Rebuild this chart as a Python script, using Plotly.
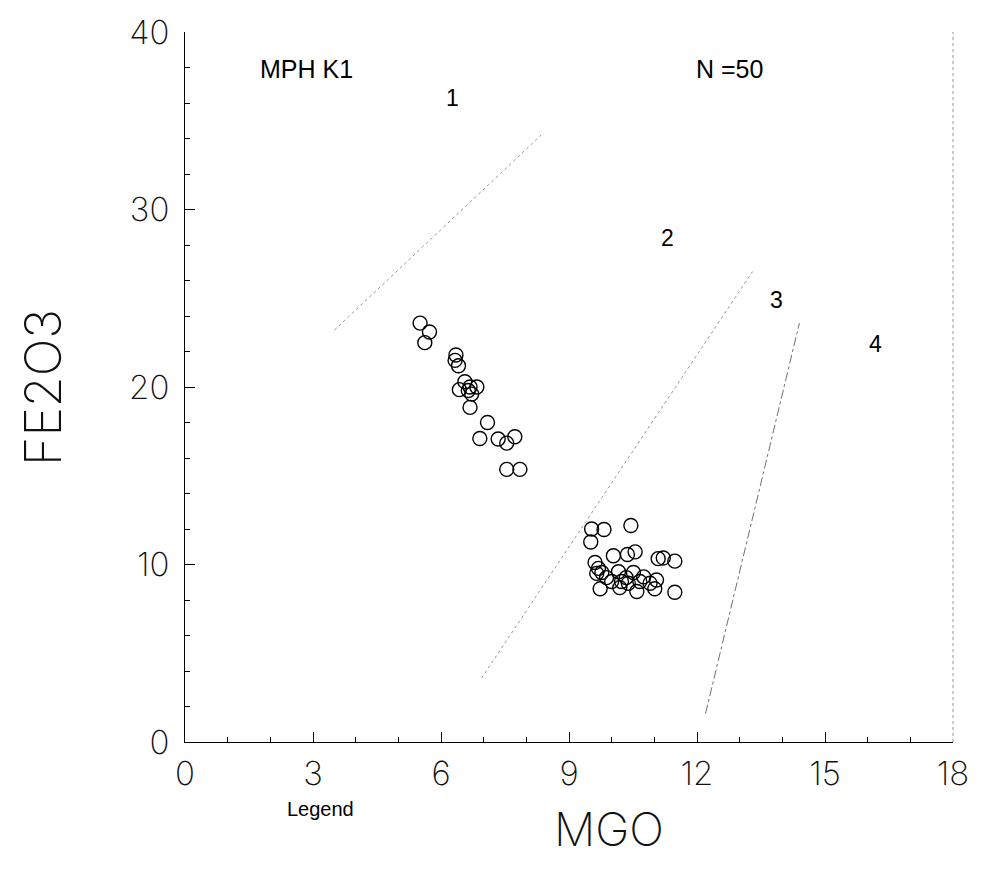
import plotly.graph_objects as go

# ---- data ----
mgo = [5.51, 5.73, 5.62, 6.35, 6.33, 6.41, 6.56, 6.43, 6.68, 6.84,
       6.72, 6.64, 6.68, 7.09, 6.91, 7.34, 7.54, 7.73, 7.54, 7.85,
       9.53, 9.82, 10.45, 9.51, 10.04, 10.37, 10.55, 11.09, 11.21, 11.48,
       9.61, 9.69, 9.77, 9.65, 10.16, 10.51, 10.00, 10.23, 10.39, 10.66,
       10.90, 11.05, 9.73, 10.19, 10.59, 11.01, 11.48, 10.34, 9.88, 10.75]
fe2o3 = [23.6, 23.1, 22.5, 21.8, 21.5, 21.2, 20.3, 19.85, 20.0, 20.0,
         19.6, 19.8, 18.85, 18.0, 17.1, 17.07, 16.84, 17.2, 15.36, 15.36,
         12.0, 11.97, 12.2, 11.27, 10.49, 10.56, 10.71, 10.33, 10.37, 10.19,
         10.11, 9.78, 9.55, 9.5, 9.59, 9.55, 9.04, 9.04, 8.94, 9.04,
         8.94, 9.13, 8.63, 8.7, 8.48, 8.63, 8.44, 9.26, 9.26, 9.3]

line1_x = [3.5, 8.35]
line1_y = [23.2, 34.2]
line2_x = [6.95, 13.3]
line2_y = [3.6, 26.5]
line3_x = [12.2, 14.4]
line3_y = [1.6, 23.6]

field_labels = ["1", "2", "3", "4"]
field_x = [6.28, 11.32, 13.87, 16.19]
field_y = [36.3, 28.4, 24.9, 22.4]

x_ticks = [0, 3, 6, 9, 12, 15, 18]
y_ticks = [0, 10, 20, 30, 40]

THIN = "Inter, Roboto, sans-serif"
SANS = "Liberation Sans, Arial, sans-serif"

fig = go.Figure()

for lx, ly, dash, col in [(line1_x, line1_y, "dot", "#9a9a9a"),
                          (line2_x, line2_y, "dot", "#9a9a9a"),
                          (line3_x, line3_y, "dashdot", "#707070")]:
    fig.add_trace(go.Scatter(x=lx, y=ly, mode="lines",
                             line=dict(color=col, width=1, dash=dash),
                             showlegend=False, hoverinfo="skip"))

fig.add_trace(go.Scatter(
    x=mgo, y=fe2o3, mode="markers",
    marker=dict(symbol="circle-open", size=14, color="black", line=dict(width=1.4, color="black")),
    showlegend=False))

for t, x, y in zip(field_labels, field_x, field_y):
    fig.add_annotation(x=x, y=y, text=t, showarrow=False,
                       font=dict(family=SANS, size=23, color="black"))

fig.add_annotation(x=2.85, y=37.9, text="MPH K1", showarrow=False,
                   font=dict(family=SANS, size=25, color="black"))
fig.add_annotation(x=12.75, y=37.9, text="N =50", showarrow=False,
                   font=dict(family=SANS, size=25, color="black"))

fig.add_annotation(xref="paper", yref="paper", x=-0.185, y=0.5, text="FE2O3",
                   textangle=-90, showarrow=False, xanchor="center", yanchor="middle",
                   font=dict(family=THIN, size=50, color="#111", weight=200))
fig.add_annotation(xref="paper", yref="paper", x=0.552, y=-0.122, text="MGO",
                   showarrow=False, xanchor="center", yanchor="middle",
                   font=dict(family=THIN, size=46, color="#111", weight=200))
fig.add_annotation(xref="paper", yref="paper", x=0.176, y=-0.094, text="Legend",
                   showarrow=False, xanchor="center", yanchor="middle",
                   font=dict(family=SANS, size=20, color="black"))

# right frame (faint, broken)
fig.add_shape(type="line", xref="paper", yref="paper", x0=1, x1=1, y0=0, y1=1,
              line=dict(color="#999", width=1, dash="dot"))

tickfont = dict(family=THIN, size=33, color="#111", weight=200)
fig.update_xaxes(range=[0, 18], tickvals=x_ticks, ticks="inside", ticklen=10, tickwidth=1,
                 tickcolor="black", showline=True, linecolor="black", linewidth=1,
                 showgrid=False, zeroline=False, tickfont=tickfont, ticklabelstandoff=2,
                 minor=dict(dtick=1, ticks="inside", ticklen=5, tickcolor="black", showgrid=False))
fig.update_yaxes(range=[0, 40], tickvals=y_ticks, ticks="inside", ticklen=10, tickwidth=1,
                 tickcolor="black", showline=True, linecolor="black", linewidth=1,
                 showgrid=False, zeroline=False, tickfont=tickfont, ticklabelstandoff=8,
                 minor=dict(dtick=2, ticks="inside", ticklen=5, tickcolor="black", showgrid=False))

fig.update_layout(width=985, height=874, margin=dict(l=185, r=32, t=25, b=132),
                  plot_bgcolor="white", paper_bgcolor="white", showlegend=False)

fig.write_html("out.html")
